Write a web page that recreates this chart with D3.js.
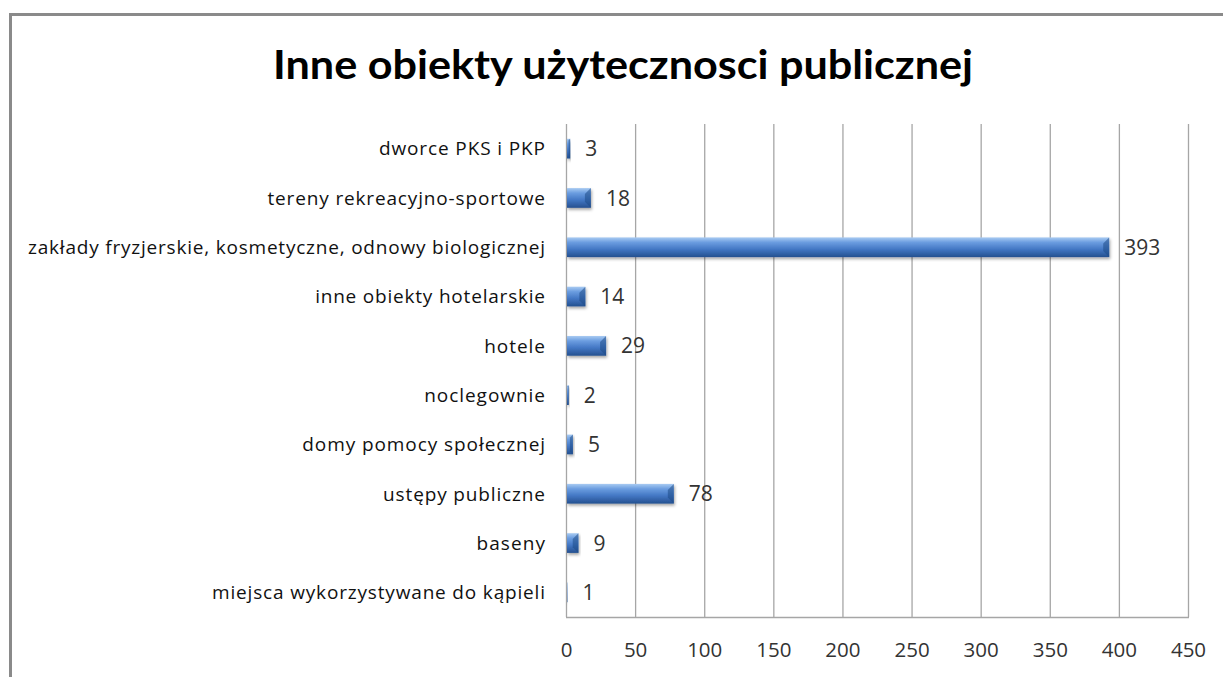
<!DOCTYPE html>
<html>
<head>
<meta charset="utf-8">
<script src="https://cdn.jsdelivr.net/npm/d3@7"></script>
<style>
html,body{margin:0;padding:0;background:#fff;overflow:hidden;}
svg{display:block;}
</style>
</head>
<body>
<svg id="chart" width="1223" height="677"></svg>
<script>
const title = "Inne obiekty użytecznosci publicznej";
const categories = [
  "dworce PKS i PKP",
  "tereny rekreacyjno-sportowe",
  "zakłady fryzjerskie, kosmetyczne, odnowy biologicznej",
  "inne obiekty hotelarskie",
  "hotele",
  "noclegownie",
  "domy pomocy społecznej",
  "ustępy publiczne",
  "baseny",
  "miejsca wykorzystywane do kąpieli"
];
const values = [3, 18, 393, 14, 29, 2, 5, 78, 9, 1];
const tickValues = [0, 50, 100, 150, 200, 250, 300, 350, 400, 450];

const svg = d3.select("#chart");
const plot = {left: 566, right: 1188, top: 124, bottom: 617};

// frame (left and top edges visible)
svg.append("path").attr("d", "M10.5,677 L10.5,14.5 L1223,14.5")
  .attr("fill", "none").attr("stroke", "#8a8a8a").attr("stroke-width", 3);

const defs = svg.append("defs");
const grad = defs.append("linearGradient").attr("id", "barGrad")
  .attr("x1", 0).attr("y1", 0).attr("x2", 0).attr("y2", 1);
grad.append("stop").attr("offset", "0%").attr("stop-color", "#a9cbf2");
grad.append("stop").attr("offset", "25%").attr("stop-color", "#6b9de0");
grad.append("stop").attr("offset", "60%").attr("stop-color", "#4377c4");
grad.append("stop").attr("offset", "100%").attr("stop-color", "#24508f");
const shadow = defs.append("filter").attr("id", "shadow").attr("x", "-10%").attr("y", "-30%").attr("width", "130%").attr("height", "180%");
shadow.append("feDropShadow").attr("dx", 1).attr("dy", 2).attr("stdDeviation", 1.5)
  .attr("flood-color", "#000").attr("flood-opacity", 0.35);

// title
svg.append("text").attr("x", 623).attr("y", 79).attr("text-anchor", "middle")
  .attr("font-family", "Lato, 'Open Sans', sans-serif").attr("font-weight", "bold")
  .attr("font-size", 41).attr("fill", "#000")
  .attr("textLength", 700).attr("lengthAdjust", "spacingAndGlyphs")
  .text(title);

const x = d3.scaleLinear().domain([0, 450]).range([plot.left, plot.right]);
const y = d3.scaleBand().domain(categories).range([plot.top, plot.bottom]).paddingInner(0.6).paddingOuter(0.3);

// gridlines
svg.append("g").selectAll("line").data(tickValues).join("line")
  .attr("x1", d => x(d) + 0.5).attr("x2", d => x(d) + 0.5)
  .attr("y1", plot.top).attr("y2", plot.bottom)
  .attr("stroke", "#a6a6a6").attr("stroke-width", 1.3);

// bottom axis line
svg.append("line").attr("x1", plot.left).attr("x2", plot.right + 1)
  .attr("y1", plot.bottom + 0.5).attr("y2", plot.bottom + 0.5)
  .attr("stroke", "#a6a6a6").attr("stroke-width", 1.3);

// x tick labels
const xAxis = d3.axisBottom(x).tickValues(tickValues).tickSize(0).tickPadding(0);
const gx = svg.append("g").attr("transform", `translate(0,${plot.bottom})`).call(xAxis);
gx.select(".domain").remove();
gx.selectAll("text").attr("font-family", "'Open Sans', sans-serif").attr("font-size", 20.5)
  .attr("fill", "#333").attr("y", 40).attr("dy", 0);

// category labels
const yAxis = d3.axisLeft(y).tickSize(0).tickPadding(0);
const gy = svg.append("g").attr("transform", `translate(${plot.left - 21},0)`).call(yAxis);
gy.select(".domain").remove();
const labels = gy.selectAll("text").attr("font-family", "'Open Sans', sans-serif").attr("font-size", 19)
  .attr("fill", "#111").attr("dy", "0.36em");
// stretch uniformly so the longest label spans like the reference
let maxLen = 0;
labels.each(function () { maxLen = Math.max(maxLen, this.getComputedTextLength()); });
const k = 517 / maxLen;
labels.each(function () {
  d3.select(this).attr("textLength", this.getComputedTextLength() * k).attr("lengthAdjust", "spacing");
});

// bars
const bars = svg.append("g");
bars.selectAll("rect").data(values).join("rect")
  .attr("x", plot.left + 1)
  .attr("y", (d, i) => y(categories[i]))
  .attr("width", d => Math.max(0, x(d) - plot.left - 1))
  .attr("height", y.bandwidth())
  .attr("fill", "url(#barGrad)")
  .attr("filter", "url(#shadow)");
// bevel shading on bar ends
bars.selectAll("path.end").data(values).join("path").attr("class", "end")
  .attr("d", (d, i) => {
    const x1 = x(d), y0 = y(categories[i]), h = y.bandwidth();
    const b = Math.min(6, Math.max(0, x1 - plot.left - 1) / 2);
    return `M${x1},${y0} L${x1 - b},${y0 + b} L${x1 - b},${y0 + h - b} L${x1},${y0 + h} Z`;
  })
  .attr("fill", "#1d4a86").attr("opacity", 0.55);

// value labels
svg.append("g").selectAll("text").data(values).join("text")
  .attr("x", d => x(d) + 15)
  .attr("y", (d, i) => y(categories[i]) + y.bandwidth() / 2)
  .attr("dy", "0.36em")
  .attr("font-family", "'Open Sans', sans-serif").attr("font-size", 21)
  .attr("fill", "#333").text(d => d);
</script>
</body>
</html>
